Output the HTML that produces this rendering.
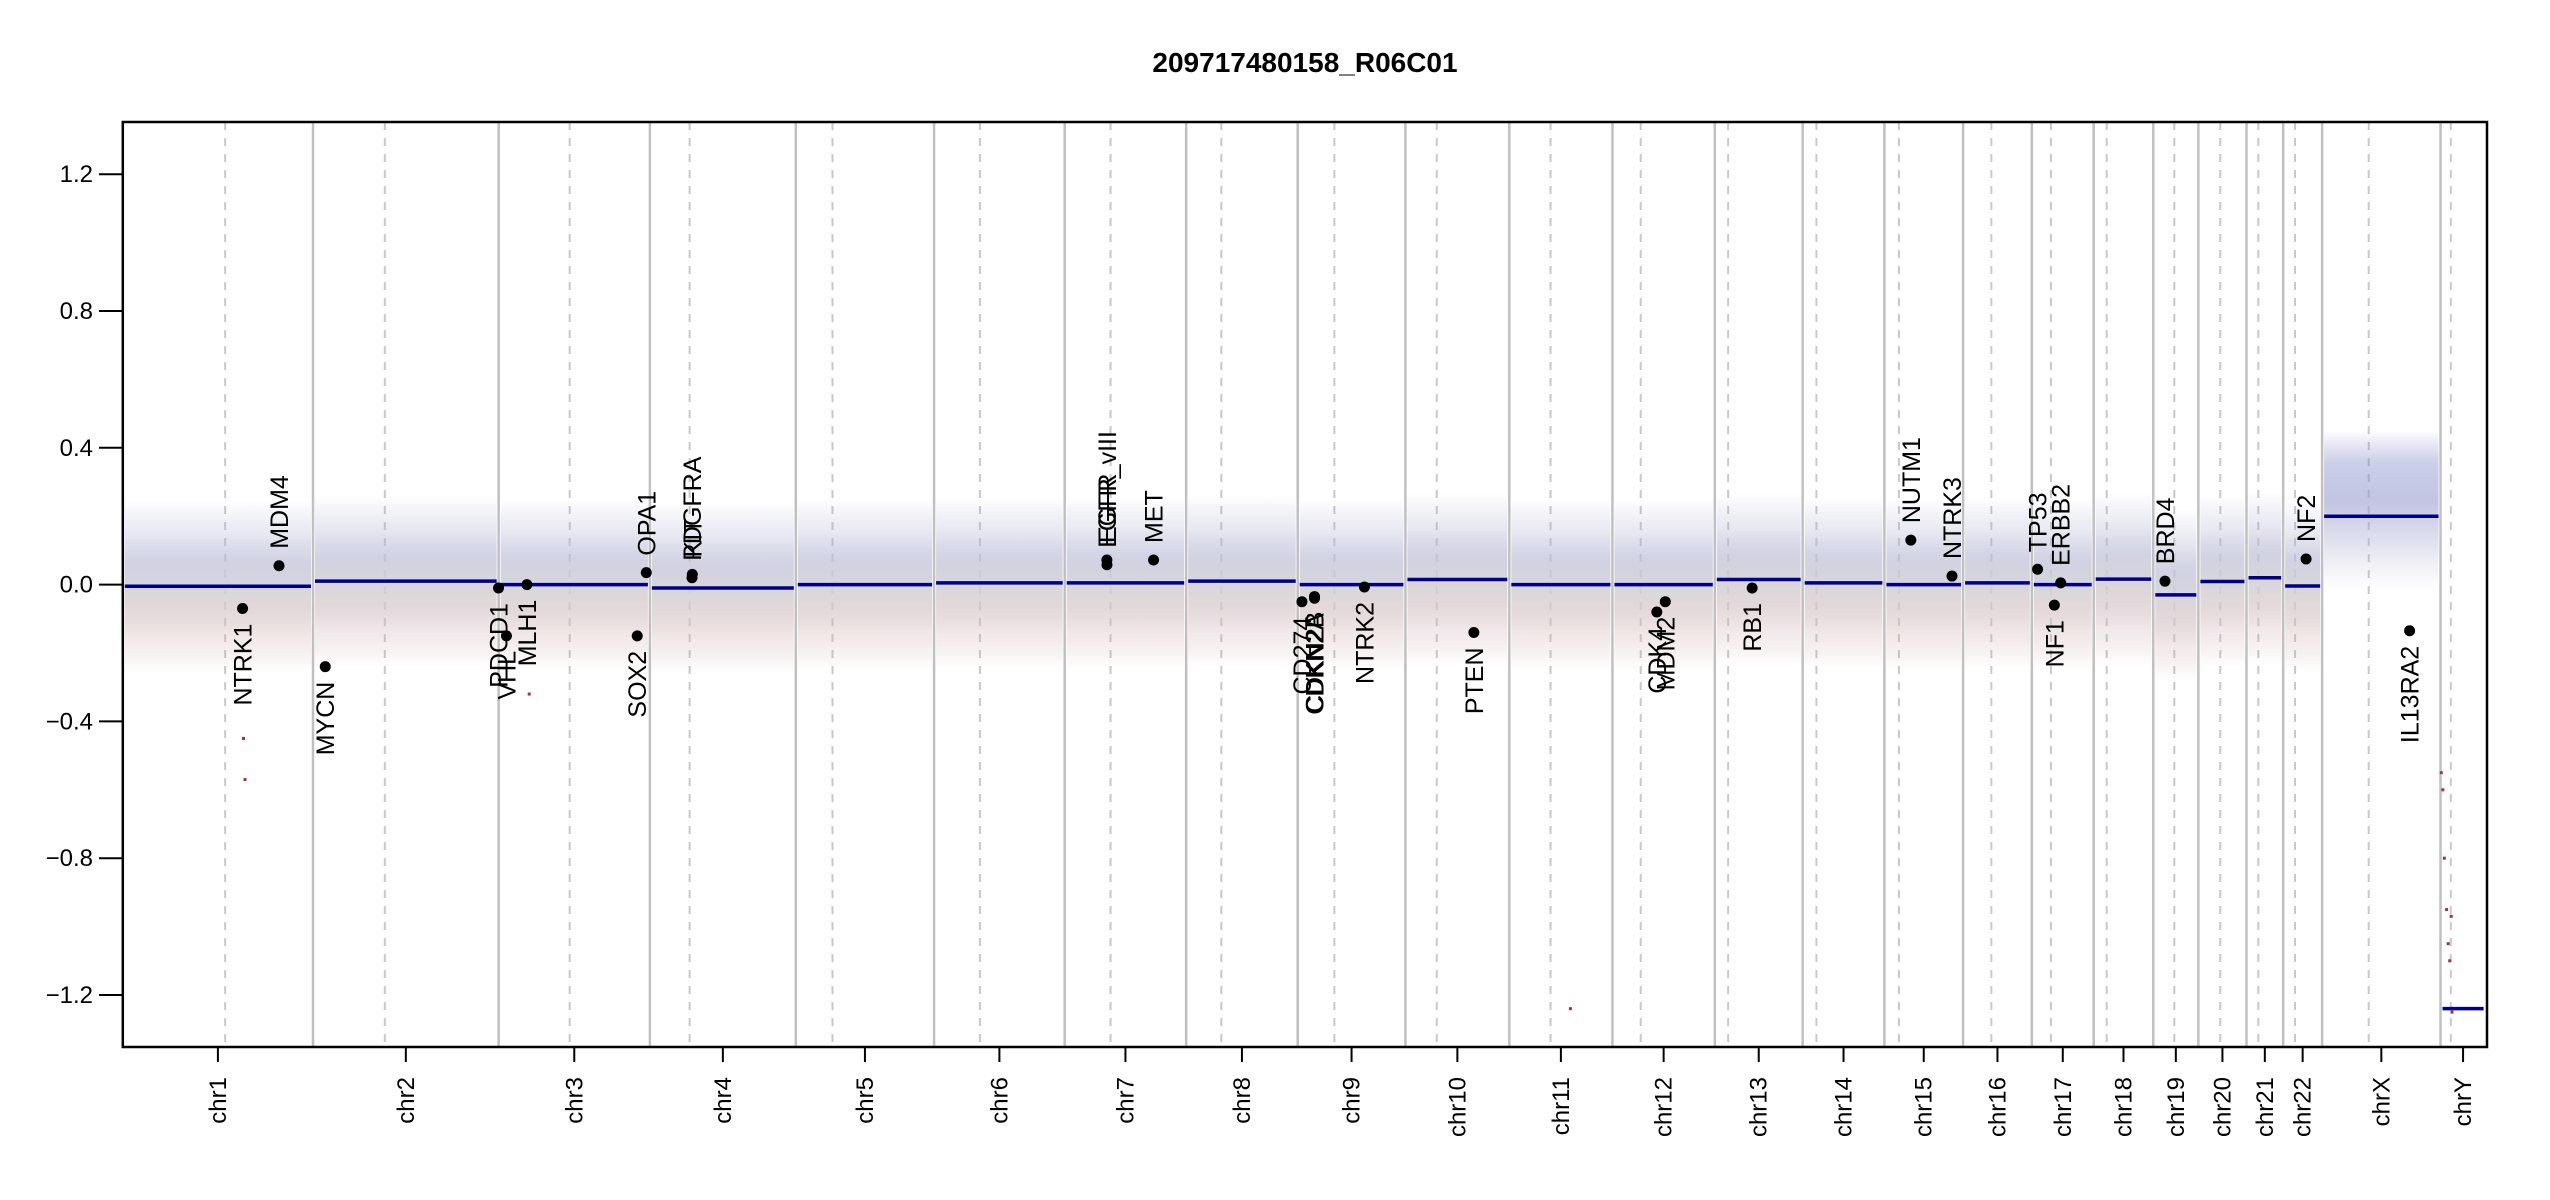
<!DOCTYPE html>
<html><head><meta charset="utf-8"><style>
html,body{margin:0;padding:0;background:#fff;}
svg{display:block;font-family:"Liberation Sans",Arial,sans-serif;}
</style></head><body>
<svg id="chart" width="2550" height="1200" viewBox="0 0 2550 1200" xmlns="http://www.w3.org/2000/svg">
<defs>
<linearGradient id="gAuto" x1="0" y1="0" x2="0" y2="1">
<stop offset="0" stop-color="#a0a2cc" stop-opacity="0"/>
<stop offset="0.2" stop-color="#aeb0d0" stop-opacity="0.3"/>
<stop offset="0.36" stop-color="#bebfd6" stop-opacity="0.7"/>
<stop offset="0.5" stop-color="#d2d2d8" stop-opacity="0.9"/>
<stop offset="0.64" stop-color="#d6c8ca" stop-opacity="0.7"/>
<stop offset="0.8" stop-color="#d2b6b6" stop-opacity="0.3"/>
<stop offset="1" stop-color="#c49898" stop-opacity="0"/>
</linearGradient>
<linearGradient id="gX" x1="0" y1="0" x2="0" y2="1">
<stop offset="0" stop-color="#6a70c0" stop-opacity="0"/>
<stop offset="0.2" stop-color="#8088c4" stop-opacity="0.4"/>
<stop offset="0.45" stop-color="#9a9ed0" stop-opacity="0.6"/>
<stop offset="0.7" stop-color="#b4b6d4" stop-opacity="0.4"/>
<stop offset="1" stop-color="#c8c8d8" stop-opacity="0"/>
</linearGradient>
</defs>
<text x="1305" y="72" text-anchor="middle" font-size="28" font-weight="bold">209717480158_R06C01</text>
<g id="grid"></g><g id="bands"></g><g id="segs"></g><g id="genes"></g><g id="axes"></g>
</svg>
<script>
const chrNames = ["chr1","chr2","chr3","chr4","chr5","chr6","chr7","chr8","chr9","chr10","chr11","chr12","chr13","chr14","chr15","chr16","chr17","chr18","chr19","chr20","chr21","chr22","chrX","chrY"];
const chrLengths = [249,243,198,191,181,171,159,146,141,136,135,134,115,107,103,90,81,78,59,63,48,51,155,59];
const centromeres = [134,94,93,52,48,60,60,46,48,41,54,37,17.5,18,19,37,25,17,27.5,28.7,15.5,15.6,61,13.4];
const segChr = [0,1,2,3,4,5,6,7,8,9,10,11,12,13,14,15,16,17,18,19,20,21,22,23];
const segValues = [-0.005,0.01,0.0,-0.01,0.0,0.005,0.005,0.01,0.0,0.015,0.0,0.0,0.015,0.005,0.0,0.005,0.0,0.016,-0.03,0.009,0.02,-0.004,0.2,-1.24];
const geneNames = ["NTRK1","MDM4","MYCN","PDCD1","VHL","MLH1","SOX2","OPA1","KIT","PDGFRA","EGFR","EGFR_vIII","MET","CD274","CDKN2A","CDKN2B","NTRK2","PTEN","CDK4","MDM2","RB1","NUTM1","NTRK3","TP53","NF1","ERBB2","BRD4","NF2","IL13RA2"];
const geneChr = [0,0,1,1,2,2,2,2,3,3,6,6,6,8,8,8,8,9,11,11,12,14,14,16,16,16,18,21,22];
const genePos = [156.8,204.5,16,242.8,10.2,37,181.4,193.3,55.5,55.1,55.2,55.3,116.3,5.5,21.97,22.0,87.3,89.6,58.1,69.2,48.9,34.6,88.5,7.5,29.5,37.8,15.3,30,114.5];
const geneValues = [-0.07,0.055,-0.24,-0.01,-0.15,0.0,-0.15,0.035,0.03,0.02,0.072,0.058,0.072,-0.05,-0.04,-0.035,-0.007,-0.14,-0.08,-0.05,-0.01,0.13,0.025,0.045,-0.06,0.005,0.01,0.075,-0.135];
const yTicks = [1.2,0.8,0.4,0.0,-0.4,-0.8,-1.2];
const yTickLabels = ["1.2","0.8","0.4","0.0","\u22120.4","\u22120.8","\u22121.2"];
const outlierChr = [23,23,23,23,23,23,23,23,0,0,10,2];
const outlierPos = [1,3,5,8,10,12,14,15,158,160,80,40];
const outlierValues = [-0.55,-0.6,-0.8,-0.95,-1.05,-1.1,-0.97,-1.25,-0.45,-0.57,-1.24,-0.32];

const NS="http://www.w3.org/2000/svg";
const L=122.8,R=2487,T=122,B=1047;
const cum=[];let acc=0;chrLengths.forEach(l=>{cum.push(acc);acc+=l;});
const total=acc;
const pxPerMb=(2485.6-L)/total;
function xOf(c,mb){return L+(cum[c]+mb)*pxPerMb;}
function yOf(v){return 584.6-v*342;}
function mk(tag,attrs,parent){const e=document.createElementNS(NS,tag);for(const k in attrs)e.setAttribute(k,attrs[k]);parent.appendChild(e);return e;}
const grid=document.getElementById('grid'),bands=document.getElementById('bands'),segs=document.getElementById('segs'),genes=document.getElementById('genes'),axes=document.getElementById('axes');

chrNames.forEach((n,i)=>{
  if(i>0){const b=mk('line',{x1:xOf(i,0),x2:xOf(i,0),y1:T,y2:B,stroke:'#c0c0c0','stroke-width':2.5},grid);
  
  }
  const c=mk('line',{x1:xOf(i,centromeres[i]),x2:xOf(i,centromeres[i]),y1:T,y2:B,stroke:'#c8c8c8','stroke-width':2,'stroke-dasharray':'8,8'},grid);
  
  
});

segChr.forEach((c,i)=>{
  const v=segValues[i];
  const x1=xOf(c,0),x2=xOf(c,chrLengths[c]);
  if(c<22){
    const r=mk('rect',{x:x1+2,width:x2-x1-4,y:yOf(v+0.25),height:yOf(v-0.25)-yOf(v+0.25),fill:'url(#gAuto)'},bands);
    
    
  } else if(c===22){
    const r=mk('rect',{x:x1+2,width:x2-x1-4,y:yOf(v+0.25),height:yOf(v-0.22)-yOf(v+0.25),fill:'url(#gX)'},bands);
    
    
  }
  const s=mk('line',{x1:x1+2,x2:x2-2,y1:yOf(v),y2:yOf(v),stroke:'#00008b','stroke-width':3.5},segs);
  
  
});

outlierChr.forEach((c,i)=>{
  const p=mk('rect',{x:xOf(c,outlierPos[i])-1.5,y:yOf(outlierValues[i])-1.5,width:3,height:3,fill:'#b03030'},bands);
  
  
});

geneNames.forEach((g,i)=>{
  const x=xOf(geneChr[i],genePos[i]),y=yOf(geneValues[i]);
  const d=mk('circle',{cx:x,cy:y,r:5.5,fill:'#000'},genes);
  
  
  const up=geneValues[i]>0;
  const ty=up?y-17:y+15;
  const t=mk('text',{x:x+9,y:ty,'font-size':25,'text-anchor':up?'start':'end',transform:`rotate(-90 ${x+9} ${ty})`},genes);
  t.textContent=g;
  
  
});

const box=mk('rect',{x:L,y:T,width:R-L,height:B-T,fill:'none',stroke:'#000','stroke-width':2.5},axes);


yTicks.forEach((v,i)=>{
  const y=yOf(v);
  const tk=mk('line',{x1:99,x2:L,y1:y,y2:y,stroke:'#000','stroke-width':2},axes);
  
  
  const t=mk('text',{x:93,y:y+8,'font-size':24,'text-anchor':'end'},axes);
  t.textContent=yTickLabels[i];
  
  
});
chrNames.forEach((n,i)=>{
  const x=xOf(i,chrLengths[i]/2);
  const tk=mk('line',{x1:x,x2:x,y1:B,y2:1062,stroke:'#000','stroke-width':2},axes);
  
  
  const t=mk('text',{x:x+8,y:1077,'font-size':24,'text-anchor':'end',transform:`rotate(-90 ${x+8} 1077)`},axes);
  t.textContent=n;
  
  
});
</script>
</body></html>
